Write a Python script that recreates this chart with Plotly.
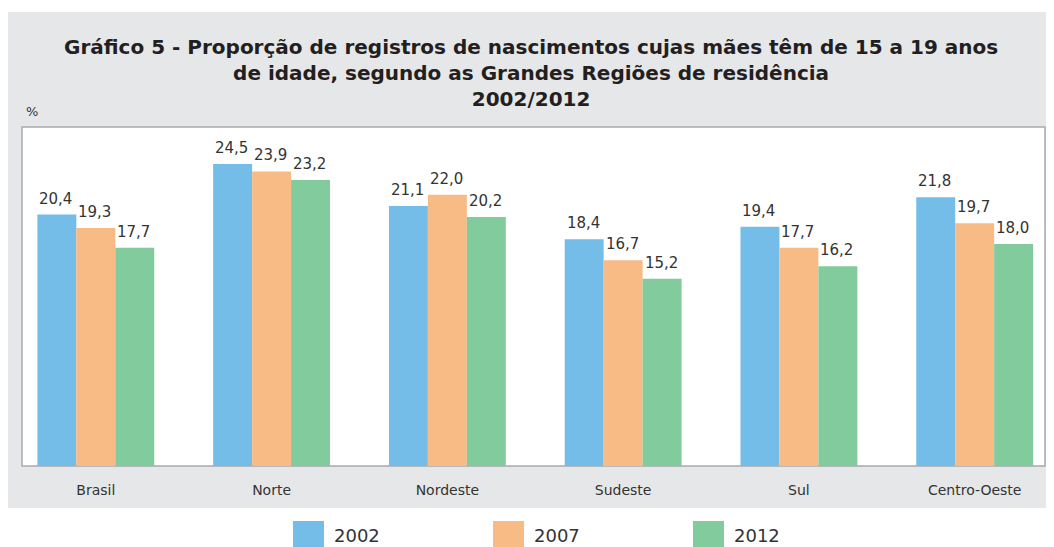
import plotly.graph_objects as go

categories = ["Brasil", "Norte", "Nordeste", "Sudeste", "Sul", "Centro-Oeste"]
years = ["2002", "2007", "2012"]
values_2002 = [20.4, 24.5, 21.1, 18.4, 19.4, 21.8]
values_2007 = [19.3, 23.9, 22.0, 16.7, 17.7, 19.7]
values_2012 = [17.7, 23.2, 20.2, 15.2, 16.2, 18.0]
series = [values_2002, values_2007, values_2012]
colors = ["#74bde8", "#f9bb86", "#82cb9c"]

OFF = 8  # page body margin
W, H = 1054 - OFF, 547 - OFF
L, R, T, B = 22 - OFF, 1045 - OFF, 127 - OFF, 466 - OFF
pw, ph = R - L, B - T
FONT = "DejaVu Sans"
XRANGE = [-0.42, 5.4]
BARGAP = 0.335

def px(x):
    return (x - OFF - L) / pw

def py(y):
    return (B - (y - OFF)) / ph

fig = go.Figure()
for name, vals, col in zip(years, series, colors):
    fig.add_trace(go.Bar(
        x=categories, y=vals, name=name, marker_color=col,
        marker_line_width=0, showlegend=False,
    ))

# value labels above bars (placed through the axes, shifted per group slot)
cat_px = pw / (XRANGE[1] - XRANGE[0])
bar_px = cat_px * (1 - BARGAP) / len(series)
annotations = []
for i, vals in enumerate(series):
    for c, v in zip(categories, vals):
        annotations.append(dict(
            x=c, y=v, xref="x", yref="y", text=f"{v:.1f}".replace(".", ","),
            showarrow=False, xanchor="center", yanchor="bottom",
            xshift=(i - (len(series) - 1) / 2) * bar_px - 1, yshift=5,
            font=dict(size=15, color="#333333", family=FONT)))

shapes = [
    dict(type="rect", xref="paper", yref="paper", x0=px(6), x1=px(1054), y0=py(508), y1=py(12),
         fillcolor="#e6e7e8", line_width=0, layer="below"),
    dict(type="rect", xref="paper", yref="paper", x0=0, x1=1, y0=0, y1=1,
         fillcolor="white", line=dict(color="#a7a9ac", width=1.5), layer="below"),
]
annotations += [
    dict(text="<b>Gráfico 5 - Proporção de registros de nascimentos cujas mães têm de 15 a 19 anos<br>"
              "de idade, segundo as Grandes Regiões de residência<br>2002/2012</b>",
         xref="paper", yref="paper", x=px(531), y=py(73), xanchor="center", yanchor="middle",
         showarrow=False, font=dict(size=20, color="#231f20", family=FONT),
         align="center"),
    dict(text="%", xref="paper", yref="paper", x=px(24), y=py(111), xanchor="left", yanchor="middle",
         showarrow=False, font=dict(size=13, color="#333333", family=FONT)),
]
leg_x = [293, 493, 693]
for i, (name, col) in enumerate(zip(years, colors)):
    x0 = leg_x[i]
    shapes.append(dict(type="rect", xref="paper", yref="paper", x0=px(x0), x1=px(x0 + 31),
                       y0=py(547), y1=py(521), fillcolor=col, line_width=0))
    annotations.append(dict(text=name, xref="paper", yref="paper", x=px(x0 + 39), y=py(535),
                            xanchor="left", yanchor="middle", showarrow=False,
                            font=dict(size=18, color="#333333", family=FONT)))

fig.update_layout(
    width=W, height=H,
    margin=dict(l=L, r=W - R, t=T, b=H - B, pad=0),
    paper_bgcolor="white", plot_bgcolor="rgba(0,0,0,0)",
    barmode="group", bargap=BARGAP, bargroupgap=0,
    shapes=shapes, annotations=annotations,
    xaxis=dict(range=XRANGE, showgrid=False, zeroline=False, showline=False,
               ticks="", ticklabelstandoff=14,
               tickfont=dict(size=14, color="#333333", family=FONT)),
    yaxis=dict(range=[0, 27.5], showgrid=False, zeroline=False, showline=False,
               showticklabels=False, ticks=""),
)
fig.write_html("out.html")
